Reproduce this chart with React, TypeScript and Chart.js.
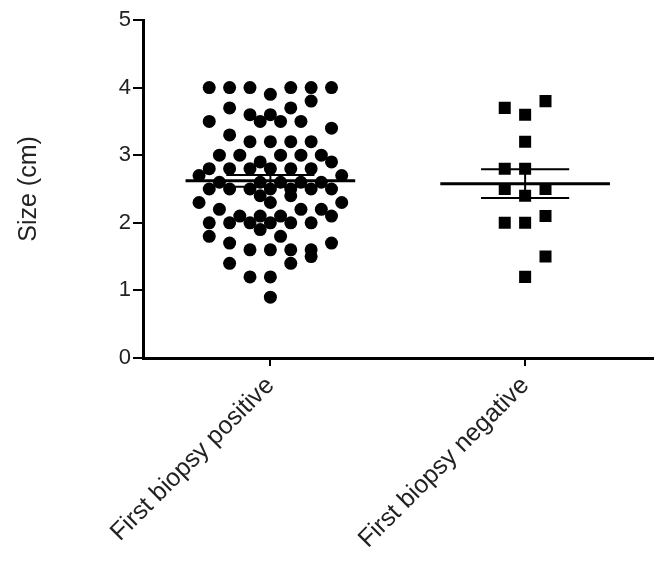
import React, { useEffect, useRef } from "react";
import { Chart, registerables } from "chart.js";

Chart.register(...registerables);

const categories = ["First biopsy positive", "First biopsy negative"];
const yTicks = [0, 1, 2, 3, 4, 5];

// Group 1: sizes (cm) and horizontal jitter slots
const positiveValues = [
  4.0, 4.0, 4.0, 4.0, 4.0, 4.0,
  3.9, 3.8, 3.7, 3.7, 3.6, 3.6,
  3.5, 3.5, 3.5, 3.5, 3.4, 3.3,
  3.2, 3.2, 3.2, 3.2,
  3.0, 3.0, 3.0, 3.0, 3.0,
  2.9, 2.9,
  2.8, 2.8, 2.8, 2.8, 2.8, 2.8,
  2.7, 2.7,
  2.6, 2.6, 2.6, 2.6, 2.6,
  2.5, 2.5, 2.5, 2.5, 2.5, 2.5, 2.5,
  2.4, 2.4, 2.3, 2.3, 2.3,
  2.2, 2.2, 2.2,
  2.1, 2.1, 2.1, 2.1,
  2.0, 2.0, 2.0, 2.0, 2.0, 2.0,
  1.9, 1.8, 1.8, 1.7, 1.7,
  1.6, 1.6, 1.6, 1.6, 1.5,
  1.4, 1.4, 1.2, 1.2, 0.9,
];
const positiveSlots = [
  -3, -2, -1, 1, 2, 3,
  0, 2, -2, 1, -1, 0,
  -3, -0.5, 0.5, 1.5, 3, -2,
  -1, 0, 1, 2,
  -2.5, -1.5, 0.5, 1.5, 2.5,
  -0.5, 3,
  -3, -2, -1, 0, 1, 2,
  -3.5, 3.5,
  -2.5, -0.5, 0.5, 1.5, 2.5,
  -3, -2, -1, 0, 1, 2, 3,
  -0.5, 1, -3.5, 0, 3.5,
  -2.5, 1.5, 2.5,
  -1.5, -0.5, 0.5, 3,
  -3, -2, -1, 0, 1, 2,
  -0.5, -3, 0.5, -2, 3,
  -1, 0, 1, 2, 2,
  -2, 1, -1, 0, 0,
];

// Group 2
const negativeValues = [3.8, 3.7, 3.6, 3.2, 2.8, 2.8, 2.5, 2.5, 2.4, 2.1, 2.0, 2.0, 1.5, 1.2];
const negativeSlots = [1, -1, 0, 0, -1, 0, -1, 1, 0, 1, -1, 0, 1, 0];

const SLOT = 0.08;
const MEAN_HALF = 0.333;
const ERR_HALF = 0.173;

function stats(v: number[]) {
  const n = v.length;
  const mean = v.reduce((a, b) => a + b, 0) / n;
  const sd = Math.sqrt(v.reduce((a, b) => a + (b - mean) ** 2, 0) / (n - 1));
  return { mean, sem: sd / Math.sqrt(n) };
}

function summaryDatasets(center: number, values: number[]) {
  const { mean, sem } = stats(values);
  const base = {
    type: "line" as const,
    showLine: true,
    pointRadius: 0,
    borderColor: "#000",
    fill: false,
  };
  return [
    { ...base, borderWidth: 3, data: [{ x: center - MEAN_HALF, y: mean }, { x: center + MEAN_HALF, y: mean }] },
    { ...base, borderWidth: 2, data: [{ x: center - ERR_HALF, y: mean + sem }, { x: center + ERR_HALF, y: mean + sem }] },
    { ...base, borderWidth: 2, data: [{ x: center - ERR_HALF, y: mean - sem }, { x: center + ERR_HALF, y: mean - sem }] },
    { ...base, borderWidth: 2, data: [{ x: center, y: mean - sem }, { x: center, y: mean + sem }] },
  ];
}

export default function App() {
  const ref = useRef<HTMLCanvasElement>(null);
  useEffect(() => {
    if (!ref.current) return;
    const font = "'Liberation Sans', Arial, sans-serif";
    const chart = new Chart(ref.current, {
      type: "scatter",
      data: {
        datasets: [
          ...summaryDatasets(1, positiveValues),
          ...summaryDatasets(2, negativeValues),
          {
            type: "scatter",
            data: positiveValues.map((y, i) => ({ x: 1 + positiveSlots[i] * SLOT, y })),
            pointStyle: "circle",
            pointRadius: 6.5,
            backgroundColor: "#000",
            borderColor: "#000",
            borderWidth: 0,
          },
          {
            type: "scatter",
            data: negativeValues.map((y, i) => ({ x: 2 + negativeSlots[i] * SLOT, y })),
            pointStyle: "rect",
            pointRadius: 8.5,
            backgroundColor: "#000",
            borderColor: "#000",
            borderWidth: 0,
          },
        ] as any,
      },
      options: {
        responsive: false,
        animation: false,
        layout: { padding: { top: 20, right: 8, left: 0, bottom: 0 } },
        plugins: { legend: { display: false }, tooltip: { enabled: false } },
        scales: {
          x: {
            type: "linear",
            min: 0.5,
            max: 2.5,
            afterBuildTicks: (s: any) => {
              s.ticks = categories.map((_, i) => ({ value: i + 1 }));
            },
            afterFit: (s: any) => {
              s.height = 205;
            },
            ticks: {
              autoSkip: false,
              maxRotation: 45,
              minRotation: 45,
              padding: 5,
              color: "#222",
              font: { family: font, size: 25 },
              callback: (v: any) => categories[Math.round(Number(v)) - 1] ?? "",
            },
            grid: { display: true, drawOnChartArea: false, drawTicks: true, tickLength: 8, color: "#000", lineWidth: 2 },
            border: { display: true, color: "#000", width: 3 },
          },
          y: {
            type: "linear",
            min: 0,
            max: 5,
            afterBuildTicks: (s: any) => {
              s.ticks = yTicks.map((v) => ({ value: v }));
            },
            afterFit: (s: any) => {
              s.width = 143;
            },
            ticks: {
              padding: 2,
              color: "#222",
              font: { family: font, size: 22 },
            },
            title: {
              display: true,
              text: "Size (cm)",
              color: "#222",
              font: { family: font, size: 25 },
              padding: { top: 14, bottom: 0 },
            },
            grid: { display: true, drawOnChartArea: false, drawTicks: true, tickLength: 10, color: "#000", lineWidth: 2 },
            border: { display: true, color: "#000", width: 3 },
          },
        },
      },
    });
    return () => chart.destroy();
  }, []);
  return (
    <div style={{ position: "absolute", left: 0, top: 0, width: 661, height: 563, background: "#fff" }}>
      <canvas ref={ref} width={661} height={563} style={{ display: "block" }} />
    </div>
  );
}
